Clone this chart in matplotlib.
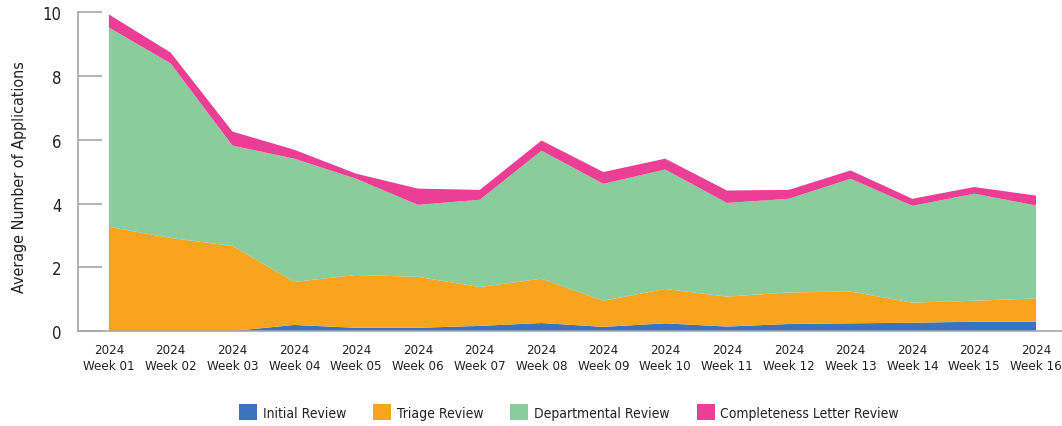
import matplotlib
matplotlib.use("Agg")
import matplotlib.pyplot as plt
from matplotlib.patches import Patch

# Semanas del periodo y promedio de solicitudes por etapa de revisión
semanas = [f"2024\nWeek {i:02d}" for i in range(1, 17)]
inicial = [0.00, 0.00, 0.00, 0.19, 0.10, 0.10, 0.16, 0.25, 0.13, 0.24, 0.14, 0.22, 0.24, 0.26, 0.29, 0.29]
triage = [3.27, 2.92, 2.67, 1.35, 1.66, 1.60, 1.22, 1.39, 0.82, 1.08, 0.94, 0.99, 1.00, 0.63, 0.66, 0.73]
departamental = [6.26, 5.48, 3.15, 3.87, 3.02, 2.26, 2.74, 4.02, 3.67, 3.75, 2.94, 2.94, 3.54, 3.04, 3.36, 2.92]
completitud = [0.41, 0.34, 0.44, 0.28, 0.16, 0.51, 0.31, 0.32, 0.37, 0.34, 0.39, 0.28, 0.26, 0.22, 0.21, 0.31]

etiquetas = ["Initial Review", "Triage Review", "Departmental Review",
             "Completeness Letter Review"]
colores = ["#3C74BC", "#F8A51D", "#8ACC9C", "#EC3E95"]

# DejaVu Sans en su variante angosta
plt.rcParams["font.family"] = ["DejaVu Sans"]
plt.rcParams["font.stretch"] = "condensed"

fig = plt.figure(figsize=(10.62, 4.27), dpi=100)
ax = fig.add_axes([0.0734, 0.2225, 0.9266, 0.746])

x = list(range(len(semanas)))
ax.stackplot(x, inicial, triage, departamental, completitud,
             colors=colores, linewidth=0)

ax.set_xlim(-0.5, 15.42)
ax.set_ylim(0, 10)
ax.set_yticks([0, 2, 4, 6, 8, 10])
ax.set_xticks(x)
ax.set_xticklabels(semanas, linespacing=1.3)

for lado in ["top", "right"]:
    ax.spines[lado].set_visible(False)
for lado in ["left", "bottom"]:
    ax.spines[lado].set_color("#A6A6A6")
    ax.spines[lado].set_linewidth(1.2)

ax.tick_params(axis="y", direction="in", length=17, width=1.2,
               color="#A6A6A6", pad=12, labelsize=12, labelcolor="#222222")
ax.tick_params(axis="x", length=0, pad=9, labelsize=9.5, labelcolor="#222222")
ax.set_ylabel("Average Number of Applications", fontsize=11.5,
              color="#222222")
ax.yaxis.set_label_coords(-0.052, 0.487)

manijas = [Patch(facecolor=c, edgecolor="none") for c in colores]
fig.legend(manijas, etiquetas, loc="center", ncol=4,
           bbox_to_anchor=(569 / 1062, 1 - 413 / 427), frameon=False,
           fontsize=10, handlelength=1.3, handleheight=1.3,
           handletextpad=0.4, columnspacing=1.95, labelcolor="#222222")

fig.savefig("out.png", dpi=100)
